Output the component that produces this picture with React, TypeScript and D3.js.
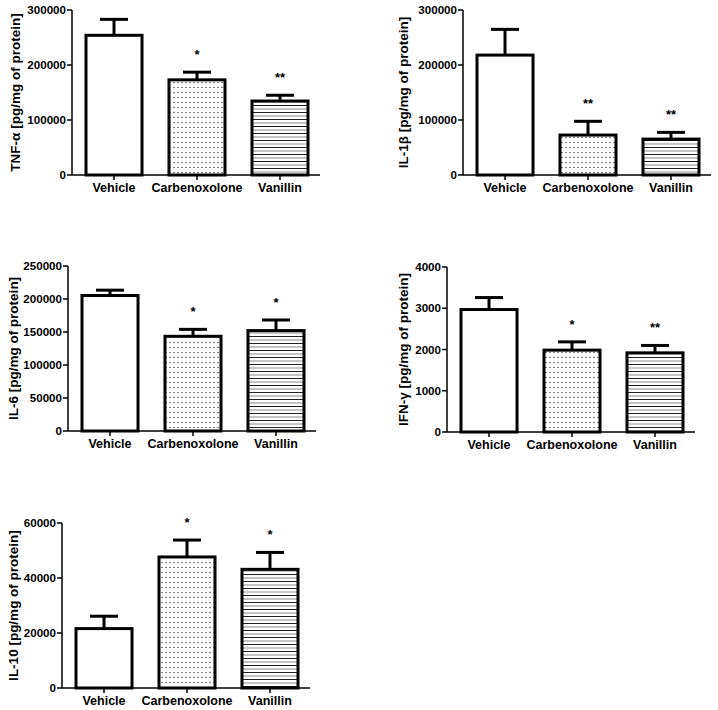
import React from "react";
import * as d3 from "d3";

const categories = ["Vehicle", "Carbenoxolone", "Vanillin"];

const tnfMean = [254000, 173000, 134500];
const tnfErr = [283000, 187000, 145000];
const tnfStars = ["", "*", "**"];
const tnfTicks = [0, 100000, 200000, 300000];

const il1bMean = [218000, 72600, 65300];
const il1bErr = [264800, 97600, 77500];
const il1bStars = ["", "**", "**"];
const il1bTicks = [0, 100000, 200000, 300000];

const il6Mean = [205300, 143500, 152100];
const il6Err = [213400, 154000, 168200];
const il6Stars = ["", "*", "*"];
const il6Ticks = [0, 50000, 100000, 150000, 200000, 250000];

const ifnMean = [2969, 1984, 1919];
const ifnErr = [3259, 2185, 2098];
const ifnStars = ["", "*", "**"];
const ifnTicks = [0, 1000, 2000, 3000, 4000];

const il10Mean = [21600, 47650, 43150];
const il10Err = [26100, 53800, 49300];
const il10Stars = ["", "*", "*"];
const il10Ticks = [0, 20000, 40000, 60000];

const fills = ["#ffffff", "url(#dots)", "url(#hlines)"];

type PanelProps = {
  x0: number;
  y0: number;
  labelX: number;
  label: string;
  mean: number[];
  err: number[];
  stars: string[];
  ticks: number[];
};

const FONT = "'Liberation Sans', Arial, sans-serif";
const PLOT_H = 165;
const AXIS_W = 248;

function Panel({ x0, y0, labelX, label, mean, err, stars, ticks }: PanelProps) {
  const yMax = ticks[ticks.length - 1];
  const y = d3.scaleLinear().domain([0, yMax]).range([y0 + PLOT_H, y0]);
  const x = d3
    .scaleBand<string>()
    .domain(categories)
    .range([x0 + 14, x0 + 236])
    .paddingInner(0.325)
    .paddingOuter(0);
  const bw = x.bandwidth();
  const base = y(0);
  return (
    <g>
      {categories.map((c, i) => {
        const bx = x(c)!;
        const cx = bx + bw / 2;
        const top = y(mean[i]);
        const et = y(err[i]);
        return (
          <g key={c}>
            <rect x={bx} y={top} width={bw} height={base - top} fill="#fff" />
            <rect
              x={bx}
              y={top}
              width={bw}
              height={base - top}
              fill={fills[i]}
              stroke="#000"
              strokeWidth={3}
            />
            <line x1={cx} x2={cx} y1={top} y2={et} stroke="#000" strokeWidth={3} />
            <line x1={cx - bw / 4} x2={cx + bw / 4} y1={et} y2={et} stroke="#000" strokeWidth={3} />
            {stars[i] && (
              <text
                x={cx}
                y={et - 13}
                textAnchor="middle"
                fontFamily={FONT}
                fontWeight="bold"
                fontSize={13}
              >
                {stars[i]}
              </text>
            )}
            <line x1={cx} x2={cx} y1={base} y2={base + 5} stroke="#000" strokeWidth={1.5} />
            <text
              x={cx}
              y={base + 17}
              textAnchor="middle"
              fontFamily={FONT}
              fontWeight="bold"
              fontSize={12.5}
            >
              {c}
            </text>
          </g>
        );
      })}
      <line x1={x0} x2={x0} y1={y0} y2={base} stroke="#000" strokeWidth={1.5} />
      <line x1={x0} x2={x0 + AXIS_W} y1={base} y2={base} stroke="#000" strokeWidth={1.5} />
      {ticks.map((t) => (
        <g key={t}>
          <line x1={x0 - 5} x2={x0} y1={y(t)} y2={y(t)} stroke="#000" strokeWidth={1.5} />
          <text
            x={x0 - 6}
            y={y(t)}
            dy="0.35em"
            textAnchor="end"
            fontFamily={FONT}
            fontWeight="bold"
            fontSize={11.6}
          >
            {t}
          </text>
        </g>
      ))}
      <text
        transform={`translate(${labelX},${y0 + PLOT_H / 2}) rotate(-90)`}
        textAnchor="middle"
        dy="0.35em"
        fontFamily={FONT}
        fontWeight="bold"
        fontSize={13.5}
      >
        {label}
      </text>
    </g>
  );
}

export default function App() {
  return (
    <div style={{ position: "absolute", left: 0, top: 0 }}>
      <svg width={718} height={710} style={{ display: "block", background: "#fff" }}>
        <defs>
          <pattern id="dots" patternUnits="userSpaceOnUse" width={4} height={5}>
            <rect width={4} height={5} fill="#fff" />
            <circle cx={2} cy={2.5} r={0.7} fill="#333" />
          </pattern>
          <pattern id="hlines" patternUnits="userSpaceOnUse" width={4} height={7}>
            <rect width={4} height={7} fill="#fff" />
            <rect y={0} width={4} height={1} fill="#222" />
            <rect y={3.5} width={4} height={1} fill="#888" />
          </pattern>
        </defs>
        <Panel x0={72} y0={10} labelX={15} label="TNF-α [pg/mg of protein]" mean={tnfMean} err={tnfErr} stars={tnfStars} ticks={tnfTicks} />
        <Panel x0={463} y0={10} labelX={403} label="IL-1β [pg/mg of protein]" mean={il1bMean} err={il1bErr} stars={il1bStars} ticks={il1bTicks} />
        <Panel x0={68} y0={266} labelX={13} label="IL-6 [pg/mg of protein]" mean={il6Mean} err={il6Err} stars={il6Stars} ticks={il6Ticks} />
        <Panel x0={447} y0={267} labelX={403} label="IFN-γ [pg/mg of protein]" mean={ifnMean} err={ifnErr} stars={ifnStars} ticks={ifnTicks} />
        <Panel x0={62} y0={523} labelX={13} label="IL-10 [pg/mg of protein]" mean={il10Mean} err={il10Err} stars={il10Stars} ticks={il10Ticks} />
      </svg>
    </div>
  );
}
